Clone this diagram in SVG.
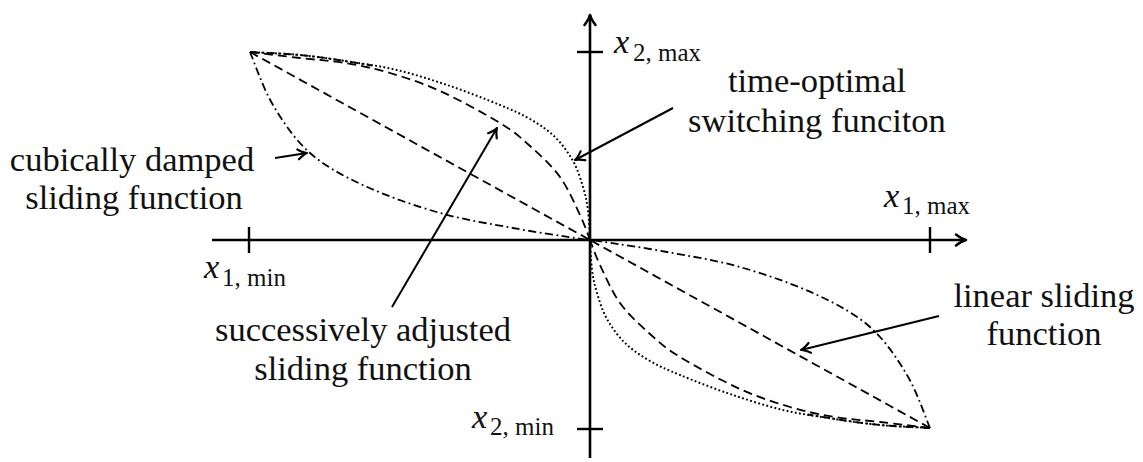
<svg xmlns="http://www.w3.org/2000/svg" xmlns:xlink="http://www.w3.org/1999/xlink" width="1143" height="462" viewBox="0 0 1143 462">
<style>
.lbl{font-family:"Liberation Serif","DejaVu Serif",serif;font-size:34.5px;fill:#111;text-anchor:middle}
.mx{font-family:"Liberation Serif","DejaVu Serif",serif;font-size:34.5px;font-style:italic;fill:#111}
.sub{font-family:"Liberation Serif","DejaVu Serif",serif;font-size:25px;fill:#111}
.axis{stroke:#000;stroke-width:2.6;fill:none}
.tick{stroke:#000;stroke-width:2.4;fill:none}
.c{fill:none;stroke:#000;stroke-width:1.8}
.dash{stroke-dasharray:9 5}
.dashdot{stroke-dasharray:8 3.5 1.8 3.5}
.dot{stroke-dasharray:1.8 2.4;stroke-width:2}
.ann{stroke:#000;stroke-width:2;fill:none}
</style>
<defs>
<marker id="ahead" markerUnits="userSpaceOnUse" viewBox="-12 -8 14 16" refX="0" refY="0" markerWidth="14" markerHeight="16" orient="auto">
<path d="M-10,-5.5 Q-4,-1 0,0 Q-4,1 -10,5.5" fill="none" stroke="#000" stroke-width="2.6" stroke-linecap="round" stroke-linejoin="round"/>
</marker>
<marker id="aann" markerUnits="userSpaceOnUse" viewBox="-12 -8 14 16" refX="0" refY="0" markerWidth="14" markerHeight="16" orient="auto">
<path d="M-9,-5 Q-3.5,-0.8 0,0 Q-3.5,0.8 -9,5" fill="none" stroke="#000" stroke-width="2.2" stroke-linecap="round" stroke-linejoin="round"/>
</marker>
</defs>

<g id="axes">
<line class="axis" x1="212" y1="240" x2="966" y2="240" marker-end="url(#ahead)"/>
<line class="axis" x1="590" y1="458" x2="590" y2="15" marker-end="url(#ahead)"/>
<line class="tick" x1="249" y1="227" x2="249" y2="253"/>
<line class="tick" x1="930" y1="227" x2="930" y2="253"/>
<line class="tick" x1="577" y1="52" x2="603" y2="52"/>
<line class="tick" x1="577" y1="429" x2="603" y2="429"/>
</g>

<g id="curves">
<g id="lobe-upper-left">
<path id="linear-ul" class="c dash" d="M250,52 L590,240"/>
<path id="adjusted-ul" class="c dash" d="M250,52 C258.3,53 284.2,56.2 300,58 C315.8,59.8 330,60.5 345,63 C360,65.5 374.2,68.3 390,73 C405.8,77.7 421.7,82.7 440,91 C458.3,99.3 485,113.8 500,123 C515,132.2 520,137 530,146 C540,155 551.7,165.5 560,177 C568.3,188.5 575,204.5 580,215 C585,225.5 588.3,235.8 590,240"/>
<path id="timeopt-ul" class="c dot" d="M250,52 C258.3,52.5 284.2,53.5 300,55 C315.8,56.5 328.8,58.5 345,61 C361.2,63.5 379.5,65.8 397,70 C414.5,74.2 432.8,80.2 450,86 C467.2,91.8 486.7,99.5 500,105 C513.3,110.5 520.8,113.7 530,119 C539.2,124.3 547.8,130 555,137 C562.2,144 568.3,152.7 573,161 C577.7,169.3 580.5,178.8 583,187 C585.5,195.2 586.8,201.2 588,210 C589.2,218.8 589.7,235 590,240"/>
<path id="cubic-ul" class="c dashdot" d="M250,52 C253.8,60.8 263,88.2 273,105 C283,121.8 294.7,139.5 310,153 C325.3,166.5 343.3,176 365,186 C386.7,196 415.3,206 440,213 C464.7,220 490.5,223.8 513,228 C535.5,232.2 562.2,236 575,238 C587.8,240 587.5,239.7 590,240"/>
<path id="cubic-top-ul" class="c dashdot" d="M250,52 C258.3,52.5 284.2,53.5 300,55 C315.8,56.5 328.8,58.5 345,61 L372,65.5"/>
</g>
<use xlink:href="#lobe-upper-left" href="#lobe-upper-left" transform="rotate(180 590 240)"/>
</g>

<g id="connectors">
<line class="ann" x1="275" y1="158" x2="307" y2="153" marker-end="url(#aann)"/>
<line class="ann" x1="673" y1="108" x2="575" y2="160" marker-end="url(#aann)"/>
<line class="ann" x1="392" y1="307" x2="497" y2="128" marker-end="url(#aann)"/>
<line class="ann" x1="939" y1="316" x2="801" y2="350" marker-end="url(#aann)"/>
</g>

<g id="node-cubic">
<text class="lbl" x="132" y="171">cubically damped</text>
<text class="lbl" x="134" y="209">sliding function</text>
</g>
<g id="node-timeopt">
<text class="lbl" x="817" y="92">time-optimal</text>
<text class="lbl" x="817" y="132">switching funciton</text>
</g>
<g id="node-adjusted">
<text class="lbl" x="363" y="341">successively adjusted</text>
<text class="lbl" x="363" y="380">sliding function</text>
</g>
<g id="node-linear">
<text class="lbl" x="1044" y="307">linear sliding</text>
<text class="lbl" x="1044" y="345">function</text>
</g>

<g id="label-x2max"><text x="614" y="53"><tspan class="mx">x</tspan><tspan class="sub" x="633" y="61">2, max</tspan></text></g>
<g id="label-x1min"><text x="204" y="278"><tspan class="mx">x</tspan><tspan class="sub" x="222" y="286">1, min</tspan></text></g>
<g id="label-x1max"><text x="884" y="207"><tspan class="mx">x</tspan><tspan class="sub" x="902" y="214">1, max</tspan></text></g>
<g id="label-x2min"><text x="472" y="428"><tspan class="mx">x</tspan><tspan class="sub" x="490" y="435">2, min</tspan></text></g>
</svg>
